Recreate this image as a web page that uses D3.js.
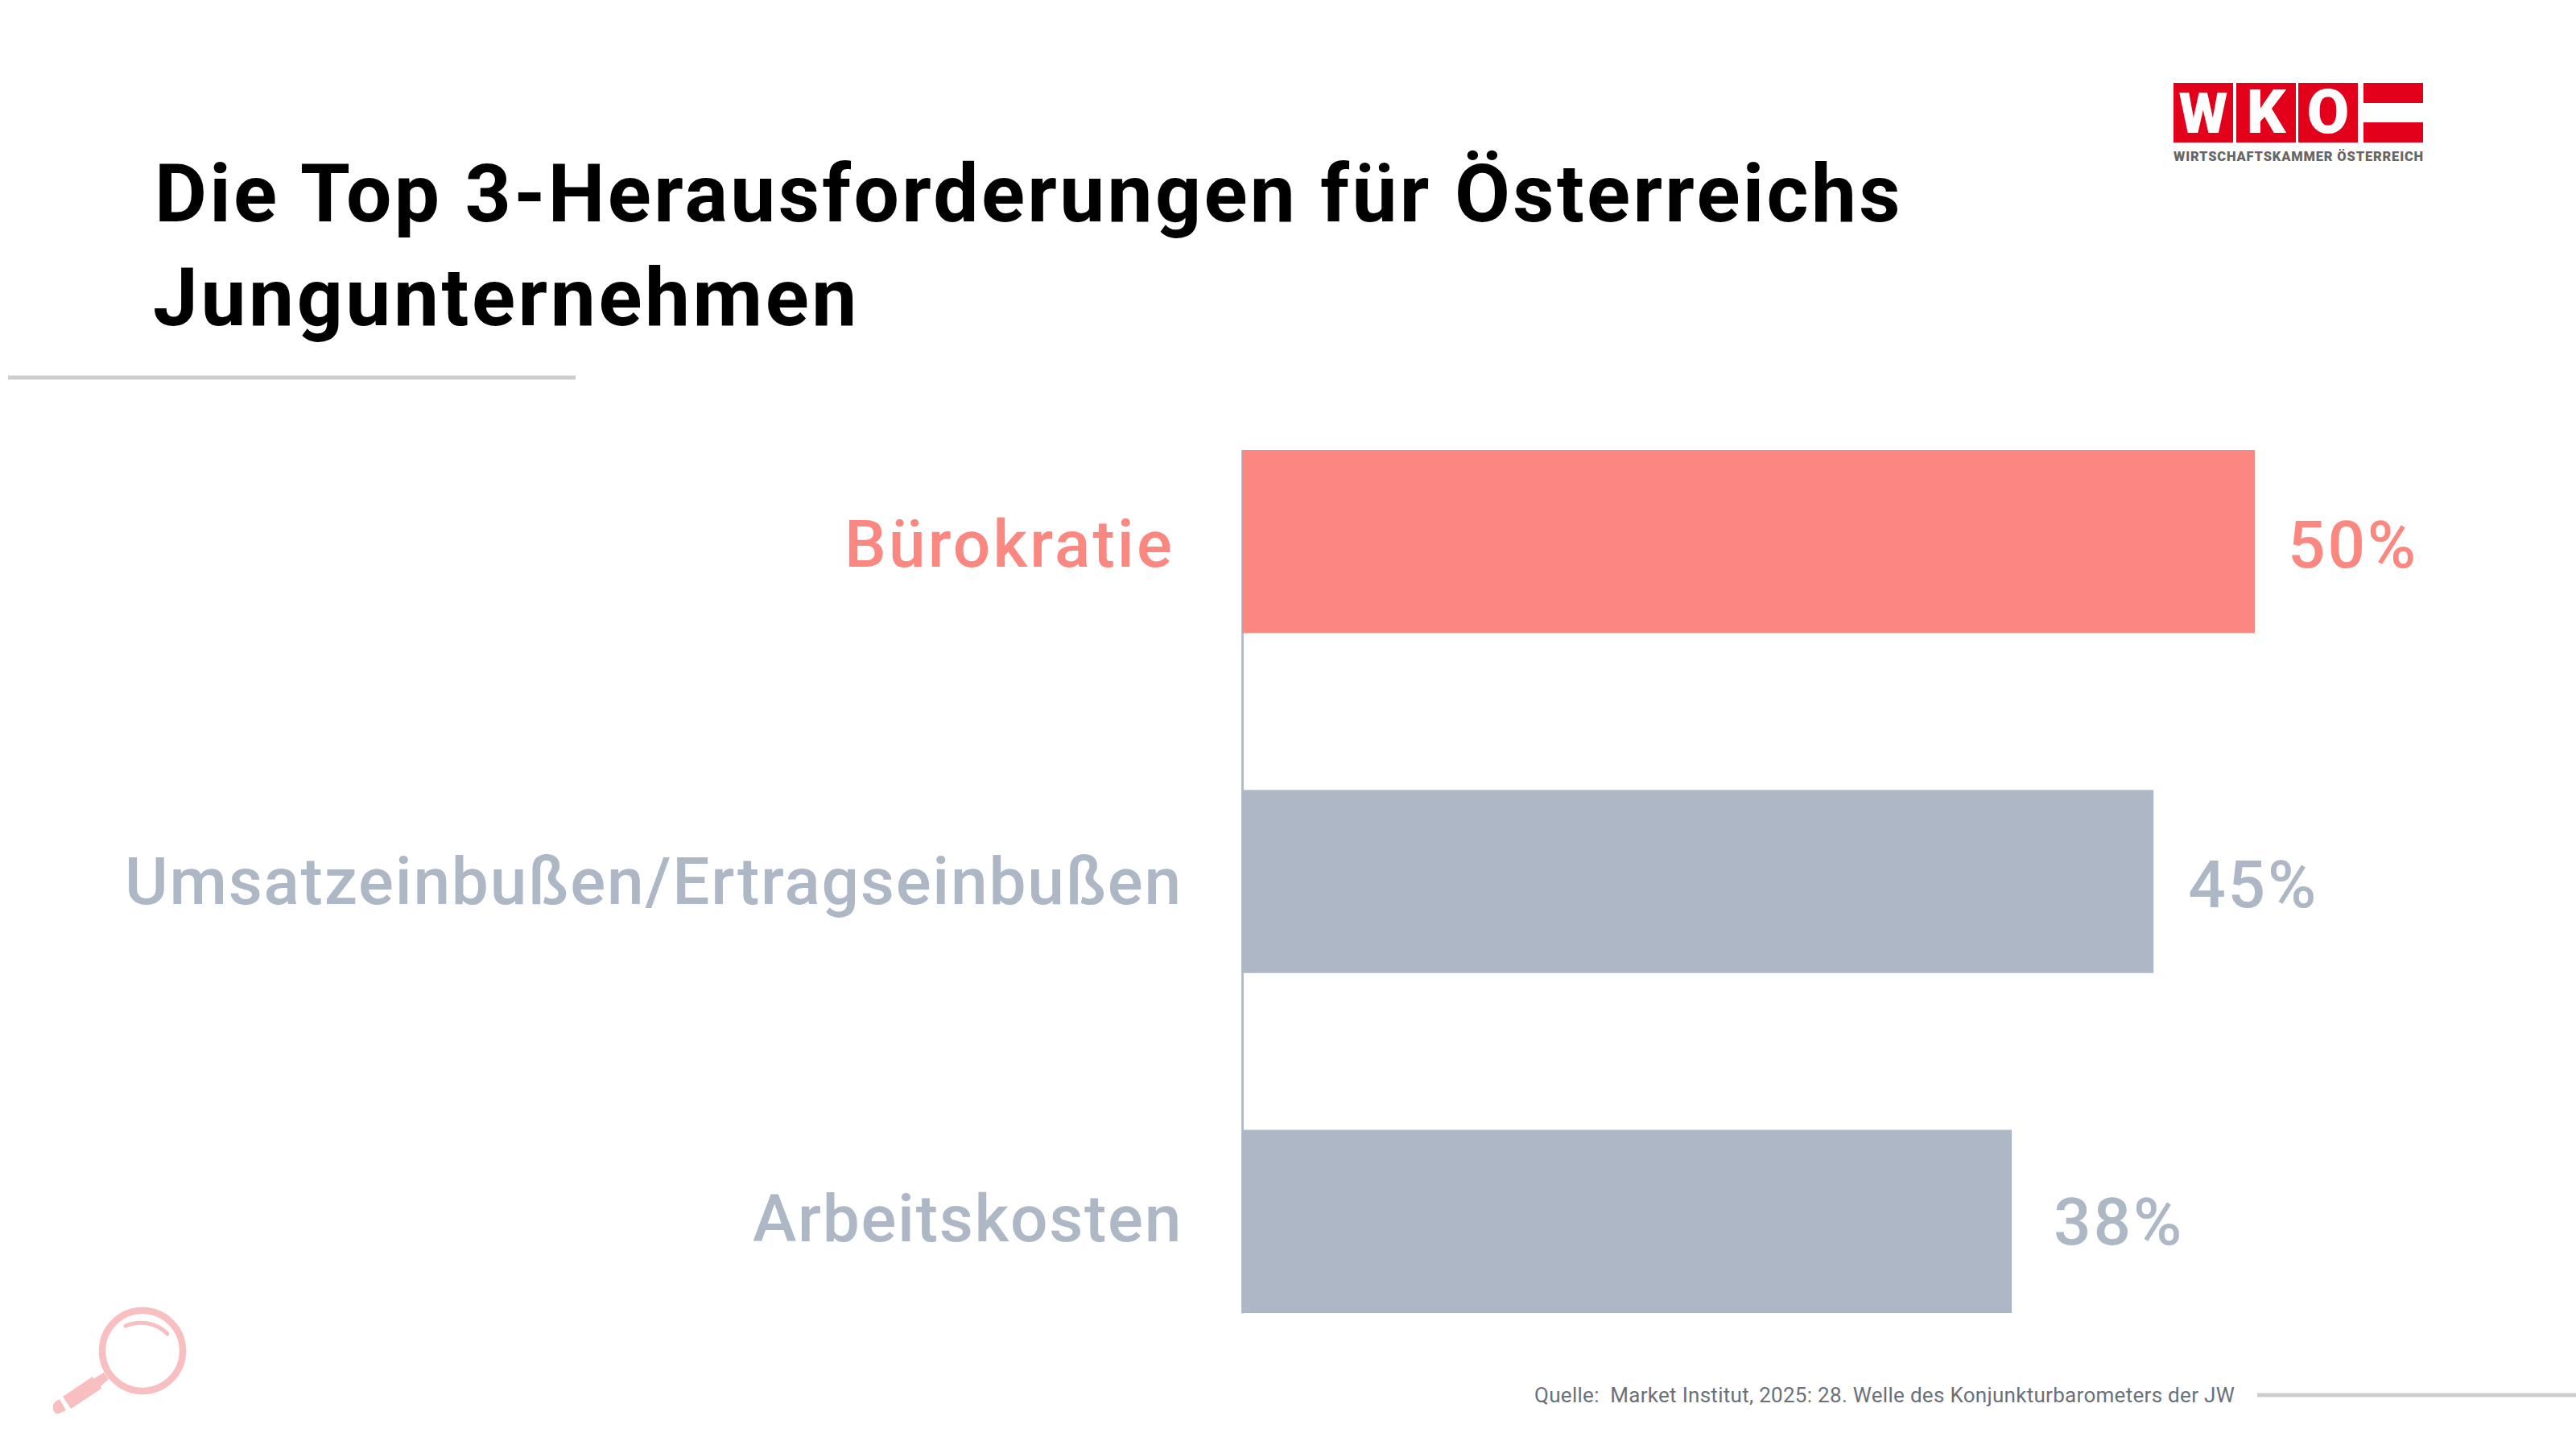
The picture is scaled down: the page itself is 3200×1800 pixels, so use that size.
<!DOCTYPE html>
<html><head><meta charset="utf-8">
<script src="https://cdn.jsdelivr.net/npm/d3@7"></script>
<style>html,body{margin:0;padding:0;background:#fff}svg{display:block}text{font-family:Roboto,sans-serif;white-space:pre}</style>
</head><body><svg id="c" width="3200" height="1800"></svg>
<script>
const categories=["Bürokratie","Umsatzeinbußen/Ertragseinbußen","Arbeitskosten"];
const values=[50,45,38];
const valueLabels=["50%","45%","38%"];
const barColors=["#fa8780","#aeb7c6","#aeb7c6"];
const titleLines=["Die Top 3-Herausforderungen für Österreichs","Jungunternehmen"];
const source="Quelle:  Market Institut, 2025: 28. Welle des Konjunkturbarometers der JW";

const svg=d3.select("#c");
svg.append("rect").attr("width",3200).attr("height",1800).attr("fill","#fff");
const x=d3.scaleLinear().domain([0,50]).range([1543,2801]);
const y=d3.scaleBand().domain(categories).range([559,1631]).paddingInner(0.4614);

// fit a text to a measured width using letter spacing
function fit(sel,w){sel.each(function(){const n=this.getNumberOfChars();const cur=this.getComputedTextLength();d3.select(this).attr("letter-spacing",(w-cur)/n);});return sel;}

// title
const titleWidths=[2172,878];
svg.selectAll(".title").data(titleLines).join("text").attr("class","title")
 .attr("x",(d,i)=>i?190:192).attr("y",(d,i)=>275+i*129).attr("font-size",100).attr("font-weight",700).attr("fill","#000")
 .text(d=>d).each(function(d,i){fit(d3.select(this),titleWidths[i]);});

// rules
svg.append("line").attr("x1",10).attr("x2",715).attr("y1",469).attr("y2",469).attr("stroke","#cbcdd0").attr("stroke-width",5);
svg.append("line").attr("x1",2804).attr("x2",3200).attr("y1",1733).attr("y2",1733).attr("stroke","#cbcdd0").attr("stroke-width",5);

// axis
const ax=svg.append("g").attr("transform","translate(1543,0)").call(d3.axisLeft(y).tickSize(0).tickPadding(74));
ax.select(".domain").attr("stroke","#b4bccb").attr("stroke-width",3);
const labelW=[410,1314,534];
const labelDy=[10,6,3];
ax.selectAll(".tick text").attr("font-size",82).attr("font-family","Roboto").attr("font-weight",500)
 .attr("fill",(d,i)=>barColors[i]).attr("dy",null).attr("dominant-baseline","middle")
 .attr("y",(d,i)=>labelDy[i])
 .each(function(d,i){fit(d3.select(this),labelW[i]);});
ax.selectAll(".tick").filter((d,i)=>i===0).select("text").attr("x",-84);

// bars
svg.selectAll(".bar").data(values).join("rect").attr("class","bar")
 .attr("x",x(0)).attr("y",(d,i)=>y(categories[i])).attr("width",d=>x(d)-x(0)).attr("height",y.bandwidth())
 .attr("fill",(d,i)=>barColors[i]);
// value labels
const valueGap=[41,43,52];
const valueDy=[32,32,29];
svg.selectAll(".val").data(values).join("text").attr("class","val")
 .attr("x",(d,i)=>x(d)+valueGap[i]).attr("y",(d,i)=>y(categories[i])+y.bandwidth()/2+valueDy[i])
 .attr("font-size",82).attr("font-weight",500).attr("fill",(d,i)=>barColors[i]).text((d,i)=>valueLabels[i])
 .each(function(){fit(d3.select(this),162);});

// source
svg.append("text").attr("x",1906).attr("y",1742).attr("font-size",26).attr("fill","#6a7079").text(source)
 .call(s=>fit(s,870));

// logo
const logo=svg.append("g");
[[2700,"W"],[2778,"K"],[2855,"O"]].forEach(([lx,t])=>{
 logo.append("rect").attr("x",lx).attr("y",103).attr("width",74).attr("height",74).attr("fill","#e2001a");
 logo.append("text").attr("x",lx+37).attr("y",165).attr("text-anchor","middle").attr("font-size",t==="W"?70:76).attr("font-weight",900).attr("fill","#fff").text(t);
});
logo.append("rect").attr("x",2936).attr("y",103).attr("width",74).attr("height",25).attr("fill","#e2001a");
logo.append("rect").attr("x",2936).attr("y",152).attr("width",74).attr("height",25).attr("fill","#e2001a");
logo.append("text").attr("x",2700).attr("y",200).attr("font-size",16.5).attr("font-weight",900).attr("fill","#666").text("WIRTSCHAFTSKAMMER ÖSTERREICH").call(s=>fit(s,311));

// magnifier
const m=svg.append("g");
const pink="#f8bfc1";
m.append("circle").attr("cx",177).attr("cy",1678).attr("r",50).attr("fill","none").attr("stroke",pink).attr("stroke-width",8.5);
m.append("path").attr("d","M156,1647 A44,40 0 0 1 208,1657").attr("fill","none").attr("stroke",pink).attr("stroke-width",5).attr("stroke-linecap","round");
m.append("path").attr("d","M115,1710 L116,1713 L129,1705 L135,1713 L125,1722 L126,1725 L88,1750 L78,1735 Z").attr("fill",pink);
m.append("path").attr("d","M74,1738 L82,1752 L73,1756 Q66,1757 66,1749 Q65,1744 69,1741 Z").attr("fill",pink);
</script></body></html>
